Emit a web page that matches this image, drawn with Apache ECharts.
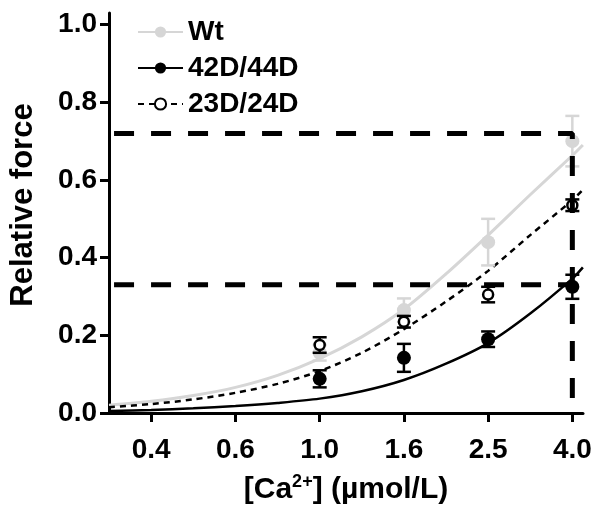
<!DOCTYPE html>
<html><head><meta charset="utf-8">
<script src="https://cdn.jsdelivr.net/npm/echarts@6/dist/echarts.min.js"></script>
<style>html,body{margin:0;padding:0;background:#fff}#c{width:604px;height:519px}</style>
</head><body><div id="c"></div>
<script>
// ---- data ----
const seriesNames = ['Wt', '42D/44D', '23D/24D'];
const pointConc = [1.0, 1.585, 2.512, 3.981];           // µmol/L
const wtMean  = [0.155, 0.265, 0.44, 0.70];
const wtErr   = [0.02, 0.03, 0.06, 0.065];
const d42Mean = [0.088, 0.142, 0.19, 0.325];
const d42Err  = [0.022, 0.036, 0.02, 0.031];
const d23Mean = [0.175, 0.235, 0.305, 0.535];
const d23Err  = [0.02, 0.015, 0.02, 0.015];
// fitted curves
const curveConc = [0.316, 0.398, 0.501, 0.631, 0.794, 1.0, 1.259, 1.585, 1.995, 2.512, 3.162, 3.981, 4.217];
const wtCurve   = [0.020, 0.030, 0.045, 0.066, 0.097, 0.140, 0.196, 0.267, 0.358, 0.458, 0.562, 0.663, 0.690];
const d42Curve  = [0.005, 0.008, 0.012, 0.018, 0.026, 0.037, 0.056, 0.085, 0.127, 0.180, 0.256, 0.346, 0.375];
const d23Curve  = [0.015, 0.023, 0.035, 0.052, 0.075, 0.108, 0.155, 0.216, 0.287, 0.366, 0.458, 0.548, 0.575];
const xTickConc   = [0.398, 0.631, 1.0, 1.585, 2.512, 3.981];
const xTickLabels = ['0.4', '0.6', '1.0', '1.6', '2.5', '4.0'];
const yTicks = [0, 0.2, 0.4, 0.6, 0.8, 1.0];
const refLevels = [0.72, 0.33];
const refConc = 3.981;
const xMinConc = 0.316, xMaxConc = 4.22;

// ---- build ----
const L = Math.log10;
const FONT = 'Liberation Sans';
const GRAY = '#d6d6d6';
const pts = (xs, ys) => xs.map((x, i) => [L(x), ys[i]]);
const errPts = (xs, ys, es) => xs.map((x, i) => [L(x), ys[i], es[i]]);
const xTickVals = xTickConc.map(L);

function errRender(color) {
  return function (params, api) {
    const x = api.value(0), y = api.value(1), e = api.value(2);
    const t = api.coord([x, y + e]), b = api.coord([x, y - e]);
    const hw = 7;
    const style = { stroke: color, lineWidth: 2.5, fill: null };
    return { type: 'group', children: [
      { type: 'line', shape: { x1: t[0], y1: t[1], x2: b[0], y2: b[1] }, style },
      { type: 'line', shape: { x1: t[0] - hw, y1: t[1], x2: t[0] + hw, y2: t[1] }, style },
      { type: 'line', shape: { x1: b[0] - hw, y1: b[1], x2: b[0] + hw, y2: b[1] }, style }
    ]};
  };
}

const chart = echarts.init(document.getElementById('c'), null, { renderer: 'canvas' });
chart.setOption({
  animation: false,
  backgroundColor: '#fff',
  textStyle: { fontFamily: FONT },
  grid: { left: 107, right: 21, top: 13, bottom: 106, containLabel: false },
  legend: {
    data: seriesNames,
    orient: 'vertical', left: 132, top: 13,
    itemWidth: 45, itemHeight: 14, itemGap: 8,
    textStyle: { fontSize: 28, fontWeight: 'bold', color: '#000', fontFamily: FONT }
  },
  xAxis: {
    type: 'value', min: L(xMinConc), max: L(xMaxConc),
    splitLine: { show: false },
    axisLine: { onZero: false, lineStyle: { color: '#000', width: 3 } },
    axisTick: { customValues: xTickVals, length: 9, lineStyle: { color: '#000', width: 3 } },
    axisLabel: {
      customValues: xTickVals, margin: 23,
      fontSize: 28, fontWeight: 'bold', color: '#000', fontFamily: FONT,
      formatter: v => { let best = 0; xTickVals.forEach((t, i) => { if (Math.abs(t - v) < Math.abs(xTickVals[best] - v)) best = i; }); return xTickLabels[best]; }
    },
    name: '[Ca{sup|2+}] (µmol/L)', nameLocation: 'middle', nameGap: 60,
    nameTextStyle: {
      fontSize: 30, fontWeight: 'bold', color: '#000', fontFamily: FONT,
      rich: { sup: { fontSize: 18, fontWeight: 'bold', color: '#000', fontFamily: FONT, padding: [0, 0, 16, 0] } }
    }
  },
  yAxis: {
    type: 'value', min: 0, max: 1.03,
    splitLine: { show: false },
    axisLine: { onZero: false, lineStyle: { color: '#000', width: 3 } },
    axisTick: { customValues: yTicks, length: 9, lineStyle: { color: '#000', width: 3 } },
    axisLabel: {
      customValues: yTicks, margin: 12,
      fontSize: 28, fontWeight: 'bold', color: '#000', fontFamily: FONT,
      formatter: v => v.toFixed(1)
    },
    name: 'Relative force', nameLocation: 'middle', nameGap: 70,
    nameTextStyle: { fontSize: 31, fontWeight: 'bold', color: '#000', fontFamily: FONT, padding: [0, 0, 0, 16] }
  },
  series: [
    { name: 'Wt', type: 'line', data: pts(curveConc, wtCurve), smooth: 0.3, showSymbol: false,
      symbol: 'circle', symbolSize: 14, itemStyle: { color: GRAY },
      lineStyle: { color: GRAY, width: 3 }, z: 2 },
    { name: '42D/44D', type: 'line', data: pts(curveConc, d42Curve), smooth: 0.3, showSymbol: false,
      symbol: 'circle', symbolSize: 14, itemStyle: { color: '#000' },
      lineStyle: { color: '#000', width: 2.5 }, z: 3 },
    { name: '23D/24D', type: 'line', data: pts(curveConc, d23Curve), smooth: 0.3, showSymbol: false,
      symbol: 'emptyCircle', symbolSize: 11, itemStyle: { color: '#000', borderWidth: 2 },
      lineStyle: { color: '#000', width: 2.5, type: [6, 5] }, z: 3 },
    { name: 'Wt-err', type: 'custom', renderItem: errRender(GRAY), data: errPts(pointConc, wtMean, wtErr), z: 4 },
    { name: 'Wt', type: 'scatter', data: pts(pointConc, wtMean), symbol: 'circle', symbolSize: 14,
      itemStyle: { color: GRAY, opacity: 1 }, z: 5 },
    { name: '23D-err', type: 'custom', renderItem: errRender('#000'), data: errPts(pointConc, d23Mean, d23Err), z: 6 },
    { name: '23D/24D', type: 'scatter', data: pts(pointConc, d23Mean), symbol: 'circle', symbolSize: 10,
      itemStyle: { color: '#fff', borderColor: '#000', borderWidth: 2.5, opacity: 1 }, z: 7 },
    { name: '42D-err', type: 'custom', renderItem: errRender('#000'), data: errPts(pointConc, d42Mean, d42Err), z: 6 },
    { name: '42D/44D', type: 'scatter', data: pts(pointConc, d42Mean), symbol: 'circle', symbolSize: 14,
      itemStyle: { color: '#000', opacity: 1 }, z: 7 },
    { name: 'ref-top', type: 'line', silent: true, showSymbol: false, symbol: 'none',
      data: [[L(xMinConc) + 0.012, refLevels[0]], [L(refConc), refLevels[0]], [L(refConc), 0]],
      lineStyle: { color: '#000', width: 5, type: [20, 17] }, z: 8 },
    { name: 'ref-low', type: 'line', silent: true, showSymbol: false, symbol: 'none',
      data: [[L(xMinConc) + 0.012, refLevels[1]], [L(refConc), refLevels[1]]],
      lineStyle: { color: '#000', width: 5, type: [20, 17] }, z: 8 }
  ]
});
</script>
</body></html>
